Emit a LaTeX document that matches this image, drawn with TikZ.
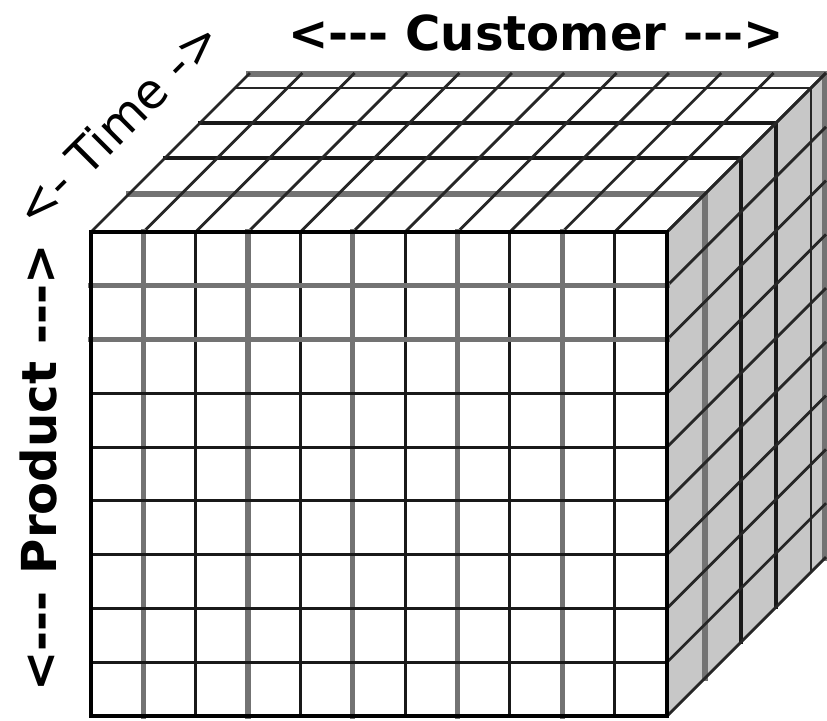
\documentclass[tikz,border=0pt]{standalone}
\usepackage{fontspec}
\setmainfont{DejaVu Sans}
\usepackage{tikz}

\begin{document}
\begin{tikzpicture}[x=0.01cm,y=-0.01cm,line cap=rect,
  blackline/.style={line width=0.9pt,black!90},
  grayline/.style={line width=1.5pt,black!55},
  diagline/.style={line width=0.8pt,black!85},
  axislabel/.style={inner sep=0pt,font=\bfseries\fontsize{13.7}{16}\selectfont}]
  \useasboundingbox[fill=white] (0,0) rectangle (827,721);
  % right face (shaded)
  \fill[black!22] (667,232) -- (825,74) -- (825,558) -- (667,716) -- cycle;
  % depth slices: top face rows and right face columns
  \foreach \d/\s in {38/grayline,74/blackline,109/blackline,144/diagline,158/grayline} {
    \draw[\s] (91+\d,232-\d) -- (667+\d,232-\d) -- (667+\d,716-\d);
  }
  % diagonals on the top face
  \foreach \i in {0,...,11} {
    \draw[diagline] (91+\i*52.36,232) -- (249+\i*52.36,74);
  }
  % diagonals on the right face
  \foreach \j in {0,...,9} {
    \draw[diagline] (667,232+\j*53.78) -- (825,74+\j*53.78);
  }
  % front face grid
  \foreach \i/\s in {1/grayline,2/blackline,3/grayline,4/blackline,5/grayline,
                     6/blackline,7/grayline,8/blackline,9/grayline,10/blackline} {
    \draw[\s] (91+\i*52.36,232) -- (91+\i*52.36,716);
  }
  \foreach \j/\s in {1/grayline,2/grayline,3/blackline,4/blackline,
                     5/blackline,6/blackline,7/blackline,8/blackline} {
    \draw[\s] (91,232+\j*53.78) -- (667,232+\j*53.78);
  }
  \draw[line width=1pt] (91,232) rectangle (667,716);
  % axis labels
  \node[axislabel,anchor=base] (customer) at (536,51) {<-{}-{}- Customer -{}-{}->};
  \node[axislabel,anchor=base,rotate=90] (product) at (57,468) {<-{}-{}- Product -{}-{}->};
  \node[inner sep=0pt,anchor=base,rotate=45,font=\fontsize{13.8}{16}\selectfont]
    (time) at (130,136) {<- Time ->};
\end{tikzpicture}
\end{document}
